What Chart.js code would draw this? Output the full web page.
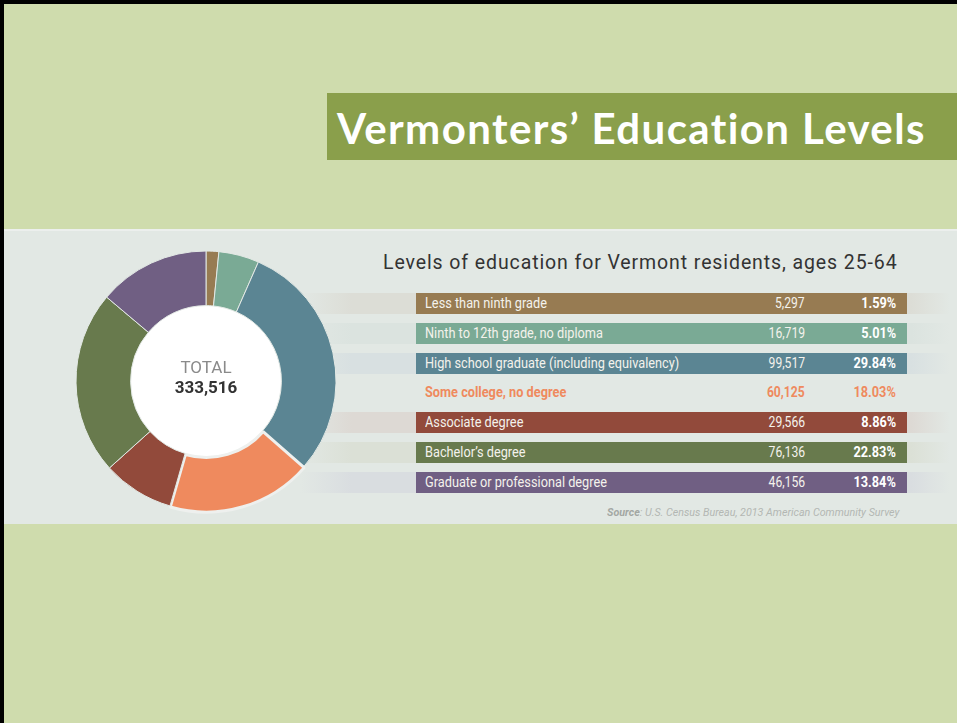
<!DOCTYPE html>
<html>
<head>
<meta charset="utf-8">
<script src="https://cdn.jsdelivr.net/npm/chart.js@4.4.1/dist/chart.umd.min.js"></script>
<style>
  html, body { margin: 0; padding: 0; width: 957px; height: 723px; overflow: hidden; }
  #slide {
    position: absolute; left: 0; top: 0; width: 953px; height: 719px;
    background: #cfdcad; border-top: 4px solid #000; border-left: 4px solid #000;
  }
  #title {
    position: absolute; left: 323px; top: 89px; width: 630px; height: 67px;
    background: #8a9f4b; color: #fff; font-family: Lato, "Open Sans", sans-serif;
    font-weight: bold; font-size: 42px; letter-spacing: 1.4px; line-height: 71px;
    padding-left: 10px; box-sizing: border-box; white-space: nowrap; overflow: hidden;
  }
  #panel {
    position: absolute; left: 0; top: 225px; width: 953px; height: 295px;
    background: #e2e8e4; border-top: 2px solid #ecefed; box-sizing: border-box;
  }
  #donut { position: absolute; left: 60px; top: 8px; z-index: 2; }
  #rows { position: absolute; left: 0; top: 0; z-index: 1; }
  #subtitle {
    position: absolute; left: 379px; top: 20px; font-family: Roboto, sans-serif;
    font-size: 19.5px; letter-spacing: 0.9px; color: #333; white-space: nowrap;
  }
  .stripe { position: absolute; left: 296px; width: 650px; height: 21px; }
  .bar {
    position: absolute; left: 412px; width: 491px; height: 21px;
    font-family: Roboto, sans-serif; font-size: 15px; line-height: 21px; color: #f4f2ec;
  }
  .bar span { position: absolute; white-space: nowrap; display: inline-block; }
  .bar .lbl { left: 9px; transform: scaleX(0.85); transform-origin: left center; }
  .bar .num { right: 102px; transform: scaleX(0.81); transform-origin: right center; }
  .bar .pct { right: 11px; font-weight: bold; color: #fff; transform: scaleX(0.85); transform-origin: right center; }
  .bar.hl { color: #ef8a5e; font-weight: bold; }
  .bar.hl .pct { color: #ef8a5e; }
  #source {
    position: absolute; right: 58px; top: 274px; font-family: Roboto, sans-serif;
    font-size: 11.5px; font-style: italic; color: #b3b7b3; white-space: nowrap;
    transform: scaleX(0.93); transform-origin: right center;
  }
  #source b { color: #a3a7a3; }
</style>
</head>
<body>
<div id="slide">
  <div id="title">Vermonters’ Education Levels</div>
  <div id="panel">
    <canvas id="donut" width="284" height="284"></canvas>
    <div id="subtitle">Levels of education for Vermont residents, ages 25-64</div>
    <div id="rows"></div>
    <div id="source"><b>Source</b>: U.S. Census Bureau, 2013 American Community Survey</div>
  </div>
</div>
<script>
const categories = [
  "Less than ninth grade",
  "Ninth to 12th grade, no diploma",
  "High school graduate (including equivalency)",
  "Some college, no degree",
  "Associate degree",
  "Bachelor’s degree",
  "Graduate or professional degree"
];
const counts = [5297, 16719, 99517, 60125, 29566, 76136, 46156];
const shares = [1.59, 5.01, 29.84, 18.03, 8.86, 22.83, 13.84];
const totalCount = 333516;
const sliceColors = ["#977b52", "#7aaa95", "#5b8593", "#ef8a5e", "#924a3b", "#687a4d", "#705f83"];
const stripeColors = ["#dcddd6", "#dbe3df", "#d8e0e1", "#e2e8e4", "#ddd9d4", "#dbe0d6", "#d9dde0"];
const highlight = 3;

// table rows next to the donut
const rows = document.getElementById("rows");
categories.forEach((name, i) => {
  let top = 62 + i * 29.8;
  let stripe = document.createElement("div");
  stripe.className = "stripe";
  stripe.style.top = top + "px";
  stripe.style.background = "linear-gradient(to right, rgba(0,0,0,0), " + stripeColors[i] + " 8%, " + stripeColors[i] + " 94%, rgba(0,0,0,0))";
  rows.appendChild(stripe);

  let bar = document.createElement("div");
  bar.className = "bar" + (i === highlight ? " hl" : "");
  bar.style.top = top + "px";
  if (i !== highlight) bar.style.background = sliceColors[i];
  bar.innerHTML = '<span class="lbl">' + name + '</span>' +
    '<span class="num">' + counts[i].toLocaleString("en-US") + '</span>' +
    '<span class="pct">' + shares[i].toFixed(2) + '%</span>';
  rows.appendChild(bar);
});

const centerText = {
  id: "centerText",
  beforeDatasetsDraw(chart) {
    let arc = chart.getDatasetMeta(0).data[0];
    let ctx = chart.ctx;
    ctx.save();
    ctx.fillStyle = "#ffffff";
    ctx.beginPath();
    ctx.arc(arc.x, arc.y, arc.innerRadius, 0, Math.PI * 2);
    ctx.fill();
    ctx.restore();
  },
  afterDraw(chart) {
    let arc = chart.getDatasetMeta(0).data[0];
    let ctx = chart.ctx;
    ctx.save();
    ctx.textAlign = "center";
    ctx.textBaseline = "middle";
    ctx.fillStyle = "#8a8a8a";
    ctx.font = "17px Roboto";
    ctx.fillText("TOTAL", arc.x, arc.y - 12);
    ctx.fillStyle = "#333333";
    ctx.font = "bold 17px Roboto";
    ctx.fillText(totalCount.toLocaleString("en-US"), arc.x, arc.y + 8);
    ctx.restore();
  }
};

new Chart(document.getElementById("donut"), {
  type: "doughnut",
  data: {
    labels: categories,
    datasets: [{
      data: counts,
      backgroundColor: sliceColors,
      borderColor: ["#e2e8e4", "#e2e8e4", "#e2e8e4", "#eef0ee", "#e2e8e4", "#e2e8e4", "#e2e8e4"],
      borderWidth: [1, 1, 1, 3, 1, 1, 1],
      offset: [0, 0, 0, 4, 0, 0, 0]
    }]
  },
  options: {
    responsive: false,
    animation: false,
    cutout: "58%",
    radius: 130,
    layout: { padding: 0 },
    plugins: { legend: { display: false }, tooltip: { enabled: false } }
  },
  plugins: [centerText]
});
</script>
</body>
</html>
